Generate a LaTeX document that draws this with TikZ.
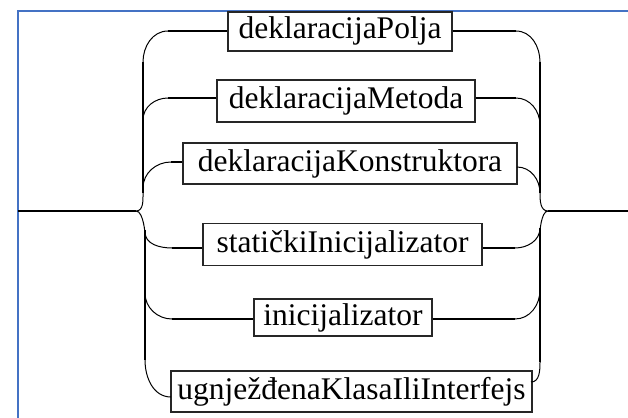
\documentclass[tikz,border=0pt]{standalone}
\usepackage{fontspec}
\setmainfont{Liberation Serif}
\definecolor{frameblue}{HTML}{4472C4}
\begin{document}
\begin{tikzpicture}[x=1pt,y=-1pt,
  term/.style={draw=black!85,line width=1.2pt,inner sep=0pt,font=\fontsize{31.5}{36}\selectfont,text height=22pt,text depth=7pt},
  hline/.style={line width=2pt},
  curve/.style={line width=1pt},
  bar/.style={line width=1.8pt}]
\useasboundingbox (0,0) rectangle (628,417);
\draw[frameblue,line width=2pt] (18,420) -- (18,11) -- (630,11);
% boxes
\node[term,minimum width=224pt,minimum height=39pt] (b1) at (340,31.5) {deklaracijaPolja};
\node[term,minimum width=258pt,minimum height=42pt] (b2) at (346,101) {deklaracijaMetoda};
\node[term,minimum width=334pt,minimum height=41pt] (b3) at (350,163.5) {deklaracijaKonstruktora};
\node[term,minimum width=279pt,minimum height=42pt] (b4) at (342.5,244.5) {statičkiInicijalizator};
\node[term,minimum width=178pt,minimum height=37pt] (b5) at (343,317.5) {inicijalizator};
\node[term,minimum width=361pt,minimum height=41pt] (b6) at (351.5,391.5) {ugnježđenaKlasaIliInterfejs};
% coordinates
\coordinate (src) at (18,211);
\coordinate (dst) at (628,211);
\coordinate (tipL) at (136,211);
\coordinate (tipR) at (548,211);
\coordinate (LT) at (143,62);
\coordinate (LU) at (143,193);
\coordinate (LL) at (145,230);
\coordinate (LB) at (145,360);
\coordinate (RT) at (540,62);
\coordinate (RU) at (540,193);
\coordinate (RL) at (540,228);
\coordinate (RB) at (540,362);
\coordinate (L1) at (168,31);
\coordinate (L2) at (168,98);
\coordinate (L3) at (171,162);
\coordinate (L4) at (172,248);
\coordinate (L5) at (172,319);
\coordinate (L6) at (171,397);
\coordinate (R1) at (516,31);
\coordinate (R2) at (516,98);
\coordinate (R3) at (517,167);
\coordinate (R4) at (515,248);
\coordinate (R5) at (515,319);
\coordinate (R6) at (531,382);
\coordinate (LB2) at (143,120);
\coordinate (LB3) at (143,188);
\coordinate (LB4) at (145,232);
\coordinate (LB5) at (145,293);
\coordinate (RB2) at (540,125);
\coordinate (RB4) at (540,228);
\coordinate (RB5) at (540,290);
% main line
\draw[hline] (src) -- (tipL);
\draw[hline] (tipR) -- (dst);
% left brace
\draw[bar] (LT) -- (LU);
\draw[bar] (LL) -- (LB);
\draw[curve] (LU) to[out=-90,in=0] (tipL) to[out=0,in=-90] (LL);
% right brace
\draw[bar] (RT) -- (RU);
\draw[bar] (RL) -- (RB);
\draw[curve] (RU) to[out=-90,in=180] (tipR) to[out=180,in=-90] (RL);
% left branches
\draw[curve] (LT) to[out=90,in=180] (L1);
\draw[hline] (L1) -- (L1 -| b1.west);
\draw[curve] (LB2) to[out=90,in=180] (L2);
\draw[hline] (L2) -- (L2 -| b2.west);
\draw[curve] (LB3) to[out=90,in=180] (L3);
\draw[hline] (L3) -- (L3 -| b3.west);
\draw[curve] (LB4) to[out=-90,in=180] (L4);
\draw[hline] (L4) -- (L4 -| b4.west);
\draw[curve] (LB5) to[out=-90,in=180] (L5);
\draw[hline] (L5) -- (L5 -| b5.west);
\draw[curve] (LB) to[out=-90,in=180] (L6);
% right branches
\draw[hline] (R1 -| b1.east) -- (R1);
\draw[curve] (R1) to[out=0,in=90] (RT);
\draw[hline] (R2 -| b2.east) -- (R2);
\draw[curve] (R2) to[out=0,in=90] (RB2);
\draw[curve] (R3) to[out=0,in=90] (RU);
\draw[hline] (R4 -| b4.east) -- (R4);
\draw[curve] (R4) to[out=0,in=-90] (RB4);
\draw[hline] (R5 -| b5.east) -- (R5);
\draw[curve] (R5) to[out=0,in=-90] (RB5);
\draw[curve] (R6) to[out=0,in=-90] (RB);
\end{tikzpicture}
\end{document}
